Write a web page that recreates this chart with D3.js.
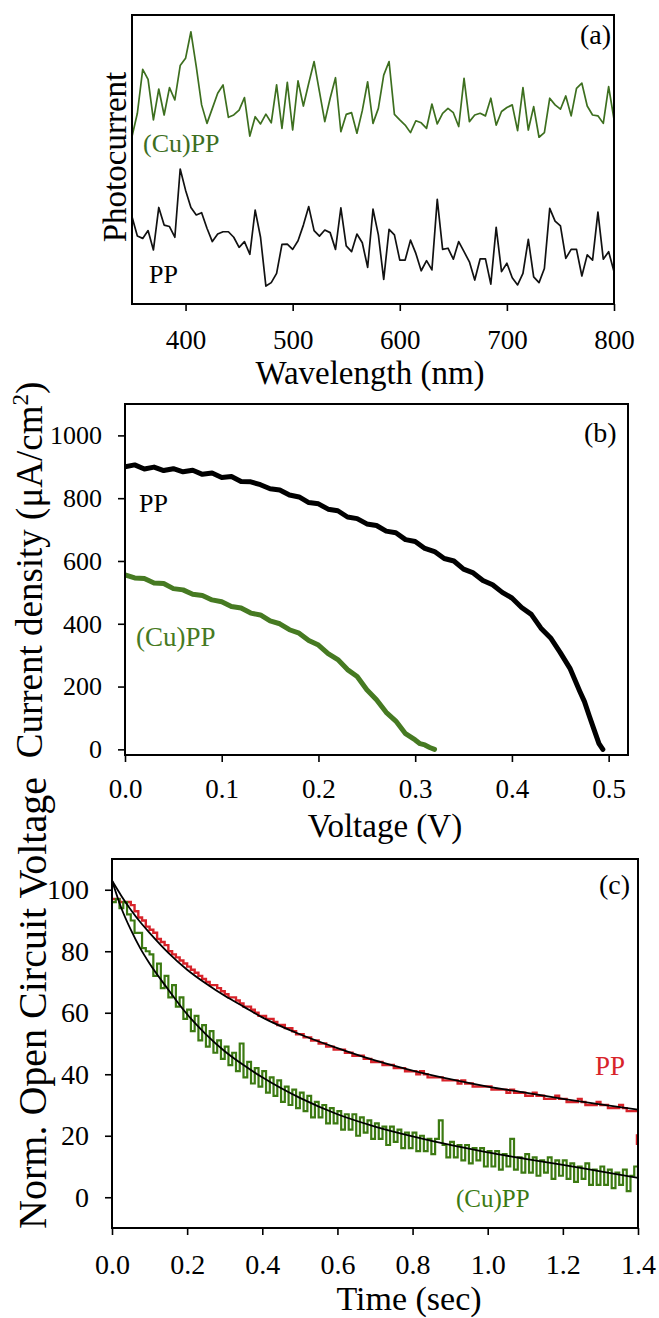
<!DOCTYPE html>
<html><head><meta charset="utf-8">
<script src="https://cdn.jsdelivr.net/npm/d3@7"></script>
<style>
body{margin:0;background:#fff}
svg{display:block}
text{font-family:"Liberation Serif","Times New Roman",serif;fill:#000}
</style>
</head><body>
<svg id="chart" width="659" height="1318"></svg>
<script>
// ---------- Panel (a): photocurrent spectra ----------
const wavelengthStart = 350, wavelengthStep = 5;
const photoCuPP = [57.9,66.0,81.2,77.7,63.7,74.4,65.4,74.9,70.6,82.5,
85.0,94.2,82.1,68.9,62.5,67.7,72.9,75.8,64.6,65.4,
67.1,71.4,58.1,64.8,62.3,65.7,62.7,75.8,60.8,76.7,
60.2,77.2,68.5,76.4,83.9,73.5,63.1,71.2,78.3,59.6,
65.6,66.2,59.1,66.9,76.9,62.5,67.7,79.2,83.9,65.6,
63.7,61.9,59.3,63.4,62.7,60.8,69.2,62.3,66.0,67.7,
66.2,61.4,78.1,63.1,65.4,66.0,65.1,71.2,61.9,66.6,
68.0,68.9,60.0,74.9,60.2,68.3,57.7,59.3,71.2,68.9,
67.4,72.0,65.1,74.6,76.4,68.5,65.4,65.1,62.5,75.2,63.9];
const photoPP = [30.2,23.5,22.7,25.4,18.7,33.4,27.3,26.8,23.1,46.7,
39.4,33.4,30.8,31.6,26.2,21.6,24.2,25.0,25.0,23.1,
19.6,21.6,17.2,32.5,23.1,6.2,7.4,10.6,20.6,20.7,
18.9,21.9,27.3,33.7,25.4,23.5,25.6,24.7,18.9,33.3,
20.1,18.1,24.2,21.2,12.7,32.8,23.9,8.5,25.8,23.9,
15.2,15.2,22.1,17.5,11.5,15.0,11.8,36.2,18.9,19.3,
15.5,21.6,18.1,14.6,8.3,15.6,15.6,6.9,26.5,11.2,
14.1,9.1,6.6,10.6,22.4,9.4,7.4,12.3,33.1,28.7,
27.0,15.8,18.9,18.9,9.7,17.0,15.2,31.8,15.5,18.1,11.2];
const ticksA = [400,500,600,700,800];

// ---------- Panel (b): J-V curves ----------
const voltPP = [0,0.01,0.02,0.03,0.04,0.05,0.06,0.07,0.08,0.09,0.10,0.11,0.12,0.13,0.14,0.15,0.16,0.17,0.18,0.19,
0.20,0.21,0.22,0.23,0.24,0.25,0.26,0.27,0.28,0.29,0.30,0.31,0.32,0.33,0.34,0.35,0.36,0.37,0.38,0.39,
0.40,0.41,0.42,0.43,0.44,0.45,0.46,0.47,0.475,0.48,0.485,0.49,0.494];
const currPP = [900,906,893,899,888,894,884,889,876,880,866,869,853,852,843,830,826,810,804,786,
782,765,760,740,735,718,713,695,690,668,662,640,630,608,600,574,562,538,524,500,
482,452,430,386,355,308,258,186,152,106,62,18,0];
const voltCuPP = [0,0.01,0.02,0.03,0.04,0.05,0.06,0.07,0.08,0.09,0.10,0.11,0.12,0.13,0.14,0.15,0.16,0.17,0.18,0.19,
0.20,0.21,0.22,0.23,0.24,0.25,0.26,0.27,0.28,0.29,0.30,0.305,0.31,0.315,0.32];
const currCuPP = [556,546,544,530,528,512,508,494,490,476,470,455,450,434,428,409,400,381,370,347,
332,305,286,254,232,190,158,118,90,50,30,18,14,6,0];
const ticksBx = [0,0.1,0.2,0.3,0.4,0.5];
const ticksBy = [0,200,400,600,800,1000];

// ---------- Panel (c): open circuit voltage decay ----------
const timeStep = 0.01;
const vocPP = [97,97,96,96,96,95,93,91,90,88,
87,86,84,83,82,80,79,78,77,76,
75,74,73,72,71,70,69,69,68,67,
66,65,65,64,63,62,62,61,60,59,
59,58,58,57,56,56,55,55,54,53,
53,52,52,51,51,50,50,49,49,48,
48,48,47,47,46,46,46,45,45,44,
44,44,43,43,43,42,42,42,41,41,
41,40,41,40,39,39,39,39,38,38,
38,38,37,38,37,37,36,36,36,36,
36,35,35,35,35,34,35,34,34,34,
33,33,34,33,33,32,32,32,33,32,
32,31,31,31,32,31,30,30,30,31,
30,30,29,29,29,30,29,28,28,28,28];
const vocPPTail = [20.5,17];
const vocCuPP = [96,97,94,96,92,90,86,86,81,80,
79,72,76,68,72,65,69,62,65,58,
61,54,59,51,56,49,54,47,51,45,
49,43,47,41,50,39,44,37,42,36,
41,34,39,33,38,31,36,30,35,29,
34,28,33,26,31,26,30,24,29,24,
28,22,27,22,27,20,26,21,25,19,
24,19,23,17,23,18,22,16,21,16,
21,15,20,15,19,14,19,25,17,13,
18,13,17,12,17,11,16,12,16,10,
15,10,15,9,14,10,19,9,13,8,
14,8,13,7,12,8,13,6,12,7,
12,6,11,5,10,6,11,4,9,4,
10,4,9,3,8,4,9,2,7,10,6];
const fitTime = [0,0.025,0.05,0.075,0.1,0.15,0.2,0.25,0.3,0.35,0.4,0.5,0.6,0.7,0.8,0.9,1.0,1.1,1.2,1.3,1.4];
const fitPP   = [103,98,93.5,89.5,86,79.5,74,69.5,65.5,62,58.5,53,48.5,44.5,41.2,38.4,36,34,32,30.2,28.5];
const fitCuPP = [103,94,87,81,76,67.5,59.5,53,47.5,43,39,32.3,27,23,19.8,17,14.6,12.5,10.5,8.4,6.3];
const ticksCx = [0,0.2,0.4,0.6,0.8,1.0,1.2,1.4];
const ticksCy = [0,20,40,60,80,100];

// ---------- colours ----------
const GREEN_A = "#3d6f1f", GREEN_B = "#467a22", GREEN_C = "#3c7a12", RED = "#d8232a";

const svg = d3.select("#chart");

function frame(g, x, y, id){
  const [xa, xb] = x.range(), [ya, yb] = y.range();
  g.append("clipPath").attr("id", id).append("rect")
    .attr("x", xa).attr("y", yb).attr("width", xb - xa).attr("height", ya - yb);
  return {xa, xb, ya, yb};
}
function box(g, f){
  g.append("rect").attr("x", f.xa).attr("y", f.yb)
    .attr("width", f.xb - f.xa).attr("height", f.ya - f.yb)
    .attr("fill", "none").attr("stroke", "#000").attr("stroke-width", 2);
}
function styleAxis(sel, fs){
  sel.select(".domain").remove();
  sel.selectAll(".tick line").attr("stroke", "#000").attr("stroke-width", 1.6);
  sel.selectAll(".tick text").attr("font-size", fs).attr("fill", "#000")
     .style("font-family", '"Liberation Serif","Times New Roman",serif');
}

// ================= Panel (a) =================
{
  const g = svg.append("g");
  const x = d3.scaleLinear().domain([350, 800]).range([132, 614]);
  const y = d3.scaleLinear().domain([0, 100]).range([304, 15]);
  const f = frame(g, x, y, "clipA");
  const wl = i => wavelengthStart + i * wavelengthStep;
  const line = d3.line().x((d, i) => x(wl(i))).y(d => y(d));
  const plot = g.append("g").attr("clip-path", "url(#clipA)");
  plot.append("path").datum(photoCuPP).attr("d", line)
    .attr("fill", "none").attr("stroke", GREEN_A).attr("stroke-width", 1.7).attr("stroke-linejoin", "round");
  plot.append("path").datum(photoPP).attr("d", line)
    .attr("fill", "none").attr("stroke", "#111").attr("stroke-width", 1.7).attr("stroke-linejoin", "round");
  box(g, f);
  g.append("g").attr("transform", `translate(0,${f.ya})`)
    .call(d3.axisBottom(x).tickValues(ticksA).tickFormat(d3.format("d")).tickSize(7).tickPadding(19))
    .call(s => styleAxis(s, 27));
  g.append("text").attr("x", 580).attr("y", 44).attr("font-size", 28).text("(a)");
  g.append("text").attr("x", 143).attr("y", 152).attr("font-size", 26).style("fill", GREEN_A).text("(Cu)PP");
  g.append("text").attr("x", 149).attr("y", 283).attr("font-size", 26).text("PP");
  g.append("text").attr("transform", "translate(126,157) rotate(-90)").attr("text-anchor", "middle")
    .attr("font-size", 33).text("Photocurrent");
  g.append("text").attr("x", 370).attr("y", 384).attr("text-anchor", "middle")
    .attr("font-size", 33).text("Wavelength (nm)");
}

// ================= Panel (b) =================
{
  const g = svg.append("g");
  const x = d3.scaleLinear().domain([0, 0.52]).range([125, 628]);
  const y = d3.scaleLinear().domain([-18, 1100]).range([755, 404]);
  const f = frame(g, x, y, "clipB");
  const plot = g.append("g").attr("clip-path", "url(#clipB)");
  const lineFrom = xs => d3.line().x((d, i) => x(xs[i])).y(d => y(d));
  plot.append("path").datum(currCuPP).attr("d", lineFrom(voltCuPP))
    .attr("fill", "none").attr("stroke", GREEN_B).attr("stroke-width", 5)
    .attr("stroke-linejoin", "round").attr("stroke-linecap", "round");
  plot.append("path").datum(currPP).attr("d", lineFrom(voltPP))
    .attr("fill", "none").attr("stroke", "#000").attr("stroke-width", 5)
    .attr("stroke-linejoin", "round").attr("stroke-linecap", "round");
  box(g, f);
  g.append("g").attr("transform", `translate(0,${f.ya})`)
    .call(d3.axisBottom(x).tickValues(ticksBx).tickFormat(d3.format(".1f")).tickSize(7).tickPadding(17))
    .call(s => styleAxis(s, 27));
  g.append("g").attr("transform", `translate(${f.xa},0)`)
    .call(d3.axisLeft(y).tickValues(ticksBy).tickFormat(d3.format("d")).tickSize(7).tickPadding(16))
    .call(s => styleAxis(s, 26));
  g.append("text").attr("x", 584).attr("y", 442).attr("font-size", 28).text("(b)");
  g.append("text").attr("x", 139).attr("y", 512).attr("font-size", 26).text("PP");
  g.append("text").attr("x", 136).attr("y", 646).attr("font-size", 27).style("fill", GREEN_B).text("(Cu)PP");
  const t = g.append("text").attr("transform", "translate(42,570) rotate(-90)").attr("text-anchor", "middle")
    .attr("font-size", 37);
  t.append("tspan").text("Current density (\u03bcA/cm");
  t.append("tspan").attr("dy", -14).attr("font-size", 23).text("2");
  t.append("tspan").attr("dy", 14).text(")");
  g.append("text").attr("x", 385).attr("y", 837).attr("text-anchor", "middle")
    .attr("font-size", 33).text("Voltage (V)");
}

// ================= Panel (c) =================
{
  const g = svg.append("g");
  const x = d3.scaleLinear().domain([0, 1.4]).range([112, 638]);
  const y = d3.scaleLinear().domain([-10, 110]).range([1228, 859]);
  const f = frame(g, x, y, "clipC");
  const plot = g.append("g").attr("clip-path", "url(#clipC)");
  const stepLine = d3.line().curve(d3.curveStepAfter).x((d, i) => x(i * timeStep)).y(d => y(d));
  plot.append("path").datum(vocPP).attr("d", stepLine)
    .attr("fill", "none").attr("stroke", RED).attr("stroke-width", 2.4);
  plot.append("path").datum(vocPPTail)
    .attr("d", d3.line().x(() => x(1.4) - 1).y(d => y(d)))
    .attr("fill", "none").attr("stroke", RED).attr("stroke-width", 2.5);
  plot.append("path").datum(vocCuPP).attr("d", stepLine)
    .attr("fill", "none").attr("stroke", GREEN_C).attr("stroke-width", 2.2);
  const fitLine = d3.line().curve(d3.curveMonotoneX).x((d, i) => x(fitTime[i])).y(d => y(d));
  plot.append("path").datum(fitPP).attr("d", fitLine)
    .attr("fill", "none").attr("stroke", "#000").attr("stroke-width", 1.8);
  plot.append("path").datum(fitCuPP).attr("d", fitLine)
    .attr("fill", "none").attr("stroke", "#000").attr("stroke-width", 1.8);
  box(g, f);
  g.append("g").attr("transform", `translate(0,${f.ya})`)
    .call(d3.axisBottom(x).tickValues(ticksCx).tickFormat(d3.format(".1f")).tickSize(7).tickPadding(19))
    .call(s => styleAxis(s, 28));
  g.append("g").attr("transform", `translate(${f.xa},0)`)
    .call(d3.axisLeft(y).tickValues(ticksCy).tickFormat(d3.format("d")).tickSize(7).tickPadding(16))
    .call(s => styleAxis(s, 28));
  g.append("text").attr("x", 599).attr("y", 894).attr("font-size", 28).text("(c)");
  g.append("text").attr("x", 595).attr("y", 1075).attr("font-size", 27).style("fill", RED).text("PP");
  g.append("text").attr("x", 456).attr("y", 1207).attr("font-size", 25).style("fill", GREEN_C).text("(Cu)PP");
  g.append("text").attr("transform", "translate(46,1003) rotate(-90)").attr("text-anchor", "middle")
    .attr("font-size", 40).text("Norm. Open Circuit Voltage");
  g.append("text").attr("x", 409).attr("y", 1310).attr("text-anchor", "middle")
    .attr("font-size", 34).text("Time (sec)");
}
</script>
</body></html>
